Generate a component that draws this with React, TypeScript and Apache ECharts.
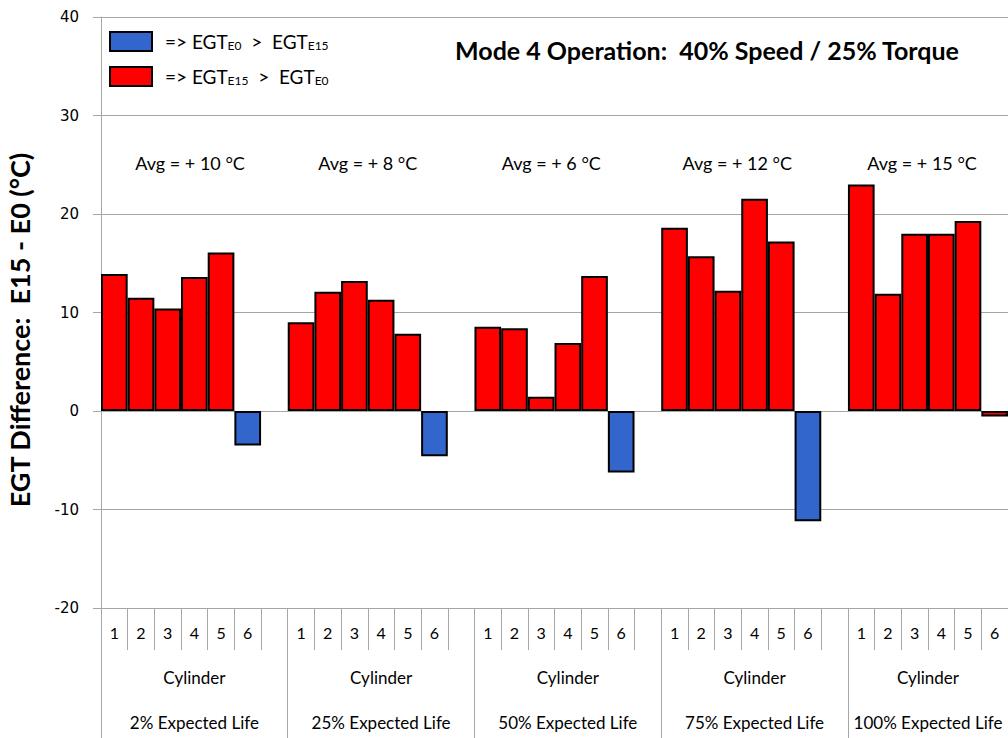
import React, { useEffect, useRef } from "react";
import * as echarts from "echarts";

// ---- data ----
const lifeGroups = [
  "2% Expected Life",
  "25% Expected Life",
  "50% Expected Life",
  "75% Expected Life",
  "100% Expected Life",
];
const cylinders = ["1", "2", "3", "4", "5", "6"];
const life2 = [13.9, 11.5, 10.4, 13.6, 16.1, -3.5];
const life25 = [9.0, 12.1, 13.2, 11.3, 7.85, -4.6];
const life50 = [8.55, 8.4, 1.45, 6.9, 13.7, -6.25];
const life75 = [18.6, 15.7, 12.2, 21.55, 17.2, -11.2];
const life100 = [23.0, 11.9, 18.0, 18.0, 19.3, -0.55];
const groupValues = [life2, life25, life50, life75, life100];

// which cylinder bars are drawn in blue (EGT_E0 > EGT_E15) in each group
const blue2 = [false, false, false, false, false, true];
const blue25 = [false, false, false, false, false, true];
const blue50 = [false, false, false, false, false, true];
const blue75 = [false, false, false, false, false, true];
const blue100 = [false, false, false, false, false, false];
const groupBlue = [blue2, blue25, blue50, blue75, blue100];

const avgLabels = ["Avg = + 10 °C", "Avg = + 8 °C", "Avg = + 6 °C", "Avg = + 12 °C", "Avg = + 15 °C"];
const avgPositions = [3.34, 10.0, 16.88, 23.85, 30.78];
const avgLevel = 25.2;

const yMin = -20;
const yMax = 40;
const yStep = 10;

const titleText = "Mode 4 Operation:  40% Speed / 25% Torque";
const yTitle = "EGT Difference:  E15 - E0 (°C)";
const negName = "=> EGTE0 > EGTE15";
const posName = "=> EGTE15 > EGTE0";

const GRID_COLOR = "#A6A6A6";
const FONT = "Lato, 'Noto Sans', sans-serif";

export default function App() {
  const ref = useRef<HTMLDivElement>(null);

  useEffect(() => {
    const chart = echarts.init(ref.current!, null, { renderer: "svg" });

    const cats: string[] = [];
    const redData: (number | string)[] = [];
    const blueData: (number | string)[] = [];
    const starts: number[] = [];
    const centers: number[] = [];
    lifeGroups.forEach((_, gi) => {
      const s = cats.length;
      starts.push(s);
      cylinders.forEach((c, ci) => {
        cats.push(`${gi}|${c}`);
        const v = groupValues[gi][ci];
        if (groupBlue[gi][ci]) {
          blueData.push(v);
          redData.push("-");
        } else {
          redData.push(v);
          blueData.push("-");
        }
      });
      if (gi < lifeGroups.length - 1) {
        cats.push(`${gi}|`);
        redData.push("-");
        blueData.push("-");
      }
      centers.push(s + (cats.length - s) / 2);
    });
    const nSlots = cats.length;

    const option: any = {
      animation: false,
      backgroundColor: "#ffffff",
      grid: {
        left: 101,
        right: 0,
        top: 17,
        bottom: 130,
        containLabel: false,
        outerBoundsMode: "none",
      },
      legend: {
        data: [negName, posName],
        orient: "vertical",
        left: 104,
        top: 26,
        itemWidth: 42,
        itemHeight: 19,
        itemGap: 14,
        icon: "rect",
        selectedMode: false,
        formatter: (name: string) =>
          name === negName
            ? "=> EGT{s|E0}  >  EGT{s|E15}"
            : "=> EGT{s|E15}  >  EGT{s|E0}",
        textStyle: {
          fontFamily: FONT,
          fontSize: 19,
          color: "#000",
          lineHeight: 20,
          padding: [0, 0, 0, 8],
          rich: {
            s: { fontFamily: FONT, fontSize: 12, lineHeight: 12, verticalAlign: "bottom", color: "#000" },
          },
        },
      },
      xAxis: [
        {
          type: "category",
          data: cats,
          position: "bottom",
          boundaryGap: true,
          axisLine: { show: true, onZero: false, lineStyle: { color: GRID_COLOR, width: 1 } },
          axisTick: { show: true, interval: 0, length: 42, lineStyle: { color: GRID_COLOR, width: 1 } },
          axisLabel: {
            interval: 0,
            margin: 15,
            fontFamily: FONT,
            fontSize: 16,
            lineHeight: 18,
            color: "#000",
            formatter: (v: string) => v.split("|")[1] || "",
          },
          splitLine: { show: false },
        },
        {
          type: "value",
          min: 0,
          max: nSlots,
          position: "bottom",
          axisLine: { show: false, onZero: false },
          axisTick: {
            show: true,
            customValues: starts,
            length: 130,
            lineStyle: { color: GRID_COLOR, width: 1 },
          },
          axisLabel: {
            show: true,
            customValues: centers,
            margin: 47,
            fontFamily: FONT,
            fontSize: 17,
            lineHeight: 45,
            color: "#000",
            formatter: (v: number) => {
              const i = centers.findIndex((c) => Math.abs(c - v) < 1e-6);
              return i >= 0 ? `Cylinder\n${lifeGroups[i]}` : "";
            },
          },
          splitLine: { show: false },
        },
      ],
      yAxis: {
        type: "value",
        min: yMin,
        max: yMax,
        interval: yStep,
        axisLine: { show: true, onZero: false, lineStyle: { color: GRID_COLOR, width: 1 } },
        axisTick: { show: true, length: 8, lineStyle: { color: GRID_COLOR, width: 1 } },
        axisLabel: {
          margin: 22,
          fontFamily: "'DejaVu Sans', Verdana, sans-serif",
          fontSize: 15,
          color: "#000",
        },
        splitLine: { show: true, lineStyle: { color: GRID_COLOR, width: 1 } },
      },
      series: [
        {
          name: negName,
          type: "bar",
          xAxisIndex: 0,
          data: blueData,
          barGap: "-100%",
          barCategoryGap: "0%",
          itemStyle: { color: "#3366CC", borderColor: "#000", borderWidth: 2 },
        },
        {
          name: posName,
          type: "bar",
          xAxisIndex: 0,
          data: redData,
          barGap: "-100%",
          barCategoryGap: "0%",
          itemStyle: { color: "#FF0000", borderColor: "#000", borderWidth: 2 },
        },
        {
          name: "avg",
          type: "scatter",
          xAxisIndex: 1,
          yAxisIndex: 0,
          silent: true,
          symbolSize: 0.1,
          itemStyle: { color: "#000000", opacity: 1 },
          data: avgLabels.map((t, i) => ({ name: t, value: [avgPositions[i], avgLevel] })),
          label: {
            show: true,
            position: "inside",
            formatter: "{b}",
            fontFamily: FONT,
            fontSize: 18,
            color: "#000000",
            opacity: 1,
          },
        },
      ],
      graphic: [
        {
          type: "text",
          x: 707,
          y: 50,
          style: {
            text: titleText,
            fontFamily: FONT,
            fontWeight: "bold",
            fontSize: 25,
            fill: "#000",
            textAlign: "center",
            textVerticalAlign: "middle",
          },
        },
        {
          type: "text",
          x: 19,
          y: 330,
          rotation: Math.PI / 2,
          style: {
            text: yTitle,
            fontFamily: FONT,
            fontWeight: "bold",
            fontSize: 27,
            fill: "#000",
            textAlign: "center",
            textVerticalAlign: "middle",
          },
        },
      ],
    };

    chart.setOption(option);
    return () => chart.dispose();
  }, []);

  return (
    <div
      ref={ref}
      style={{ position: "absolute", left: 0, top: 0, width: 1008, height: 738, background: "#fff" }}
    />
  );
}
